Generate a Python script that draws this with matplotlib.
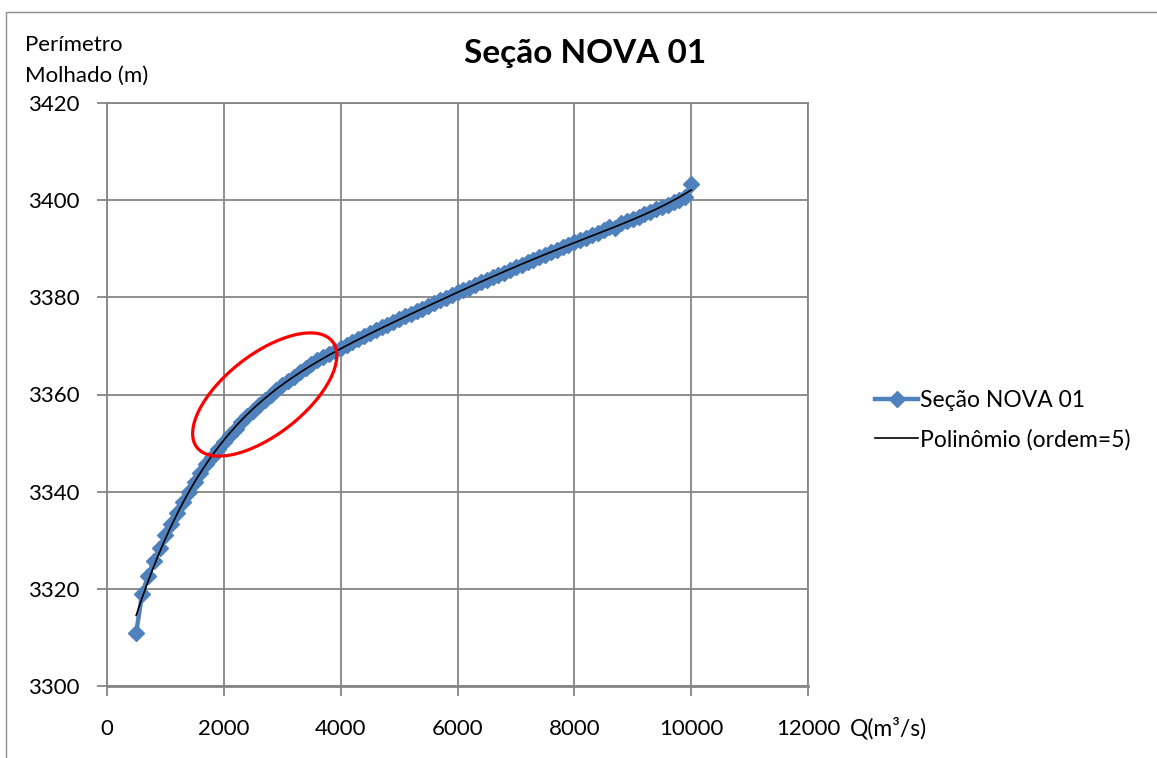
import matplotlib
matplotlib.use("Agg")
import matplotlib.pyplot as plt
from matplotlib.patches import Ellipse, Rectangle
import numpy as np

# vazão (m3/s) e perímetro molhado (m)
vazao = [500, 600, 700, 800, 900, 1000, 1100, 1200, 1300, 1400,
         1500, 1600, 1700, 1800, 1900, 2000, 2100, 2200, 2300, 2400,
         2500, 2600, 2700, 2800, 2900, 3000, 3100, 3200, 3300, 3400,
         3500, 3600, 3700, 3800, 3900, 4000, 4100, 4200, 4300, 4400,
         4500, 4600, 4700, 4800, 4900, 5000, 5100, 5200, 5300, 5400,
         5500, 5600, 5700, 5800, 5900, 6000, 6100, 6200, 6300, 6400,
         6500, 6600, 6700, 6800, 6900, 7000, 7100, 7200, 7300, 7400,
         7500, 7600, 7700, 7800, 7900, 8000, 8100, 8200, 8300, 8400,
         8500, 8600, 8700, 8800, 8900, 9000, 9100, 9200, 9300, 9400,
         9500, 9600, 9700, 9800, 9900, 10000]
perimetro = [3311.0, 3318.9, 3322.6, 3325.7, 3328.5, 3331.0, 3333.4, 3335.7, 3337.9, 3340.0,
             3342.0, 3343.9, 3345.6, 3347.2, 3348.8, 3350.3, 3351.7, 3353.0, 3354.3, 3355.5,
             3356.7, 3357.8, 3358.9, 3360.0, 3361.0, 3361.9, 3362.8, 3363.7, 3364.6, 3365.4,
             3366.2, 3367.0, 3367.7, 3368.4, 3369.0, 3369.6, 3370.2, 3370.8, 3371.4, 3372.0,
             3372.6, 3373.2, 3373.8, 3374.4, 3374.9, 3375.5, 3376.1, 3376.6, 3377.2, 3377.7,
             3378.3, 3378.8, 3379.4, 3379.9, 3380.5, 3381.0, 3381.5, 3382.0, 3382.6, 3383.1,
             3383.6, 3384.1, 3384.6, 3385.1, 3385.6, 3386.2, 3386.7, 3387.2, 3387.7, 3388.2,
             3388.7, 3389.3, 3389.8, 3390.3, 3390.8, 3391.3, 3391.8, 3392.3, 3392.8, 3393.3,
             3393.9, 3394.5, 3394.3, 3395.3, 3395.8, 3396.2, 3396.6, 3397.1, 3397.6, 3398.1,
             3398.6, 3399.1, 3399.6, 3400.0, 3400.6, 3403.4]

x_ticks = [0, 2000, 4000, 6000, 8000, 10000, 12000]
y_ticks = [3300, 3320, 3340, 3360, 3380, 3400, 3420]

serie_label = "Seção NOVA 01"
trend_label = "Polinômio (ordem=5)"

plt.rcParams["font.family"] = ["Lato", "DejaVu Sans"]

W, H = 1157, 758
fig = plt.figure(figsize=(W / 100, H / 100), dpi=100)
ax = fig.add_axes([107 / W, 1 - 686 / H, 701 / W, 583 / H])

grid_color = "#868686"

ax.plot(vazao, perimetro, color="#4F81BD", linewidth=3.2, marker="D",
        markersize=8.5, label=serie_label, zorder=3)

# linha de tendência polinomial (ordem 5)
poly = np.polynomial.Polynomial.fit(vazao, perimetro, 5)
xs = np.linspace(min(vazao), max(vazao), 400)
ax.plot(xs, poly(xs), color="black", linewidth=1.2, label=trend_label, zorder=4)

ax.set_xlim(0, 12000)
ax.set_ylim(3300, 3420)
ax.set_xticks(x_ticks)
ax.set_yticks(y_ticks)
ax.grid(True, color=grid_color, linewidth=1.3)
ax.set_axisbelow(True)
for s in ax.spines.values():
    s.set_color(grid_color)
    s.set_linewidth(1.3)
ax.spines["bottom"].set_linewidth(2)
ax.tick_params(axis="both", colors=grid_color, labelcolor="black",
               length=7, width=1.3, labelsize=16)
ax.tick_params(axis="x", pad=17)
ax.tick_params(axis="y", pad=13)

fig.text(585 / W, 1 - 53 / H, "Seção NOVA 01", ha="center", va="center",
         fontsize=24, fontweight="bold")
fig.text(25 / W, 1 - 35 / H, "Perímetro\nMolhado (m)", ha="left", va="top",
         fontsize=16, linespacing=1.65)
fig.text(850 / W, 1 - 728 / H, "Q(m³/s)", ha="left", va="center", fontsize=16.5)

ax.legend(loc="center left", bbox_to_anchor=(864 / W, 1 - 420 / H),
          bbox_transform=fig.transFigure, frameon=False, fontsize=16.5,
          handlelength=1.85, handletextpad=0.1, labelspacing=0.8,
          numpoints=1, borderpad=0)

# destaque em vermelho
cx, cy = ax.transData.transform((2700, 3360))
fig.add_artist(Ellipse((cx, cy), 172, 80, angle=38, fill=False,
                       edgecolor="red", linewidth=2.3, transform=None, zorder=5))

# moldura do gráfico
fig.add_artist(Rectangle((6 / W, -0.01), 1.0, 1 - 12 / H + 0.01, fill=False,
                         edgecolor="#8c8c8c", linewidth=1.0,
                         transform=fig.transFigure))

fig.savefig("out.png", dpi=100)
